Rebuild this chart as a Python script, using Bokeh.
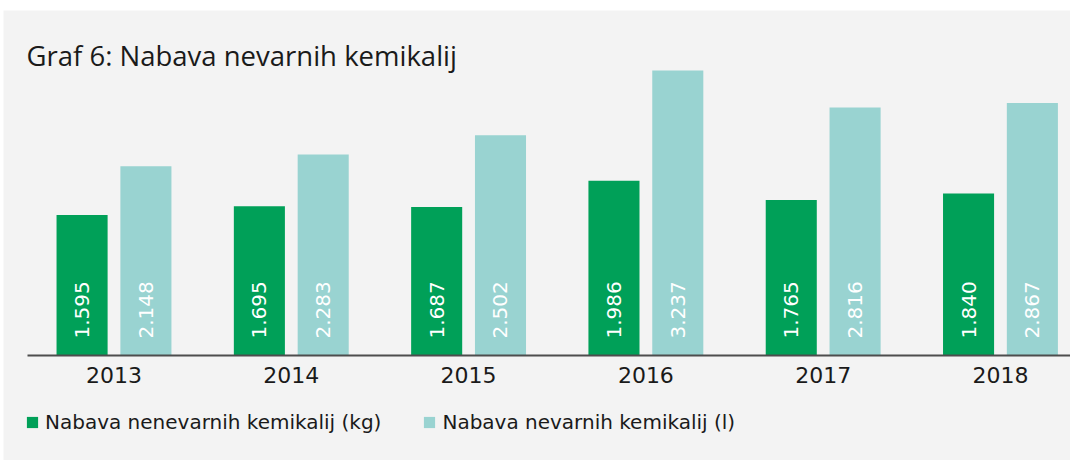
from bokeh.plotting import figure
from bokeh.models import ColumnDataSource, Range1d, Label, Legend, LegendItem
from bokeh.transform import dodge
from bokeh.core.properties import value
from bokeh.embed import file_html
from bokeh.resources import INLINE
import math

years = ["2013", "2014", "2015", "2016", "2017", "2018"]
nenevarne = [1595, 1695, 1687, 1986, 1765, 1840]
nevarne = [2148, 2283, 2502, 3237, 2816, 2867]
nenevarne_labels = ["1.595", "1.695", "1.687", "1.986", "1.765", "1.840"]
nevarne_labels = ["2.148", "2.283", "2.502", "3.237", "2.816", "2.867"]
series_names = ["Nabava nenevarnih kemikalij (kg)", "Nabava nevarnih kemikalij (l)"]
title_text = "Graf 6: Nabava nevarnih kemikalij"

GREEN = "#00a058"
TEAL = "#99d3d1"
BG = "#f3f3f3"
TXT = "#1a1a1a"

src = ColumnDataSource(dict(xi=list(range(len(years))), year=years,
                            a=nenevarne, b=nevarne,
                            la=nenevarne_labels, lb=nevarne_labels))

step = 177.3          # pixels per category
x0, x1 = -0.6232, 5.395
p = figure(width=1070, height=460, output_backend="svg", toolbar_location=None,
           x_range=Range1d(x0, x1), y_range=Range1d(-1192.5, 3918.2),
           min_border_left=3, min_border_right=0, min_border_top=10,
           min_border_bottom=0)
p.background_fill_color = BG
p.border_fill_color = "white"
p.outline_line_color = None
p.xgrid.visible = False
p.ygrid.visible = False
p.yaxis.visible = False
p.xaxis.visible = False

off = 0.18
w = 0.288
ra = p.vbar(x=dodge("xi", -off), top="a", width=w, source=src,
            fill_color=GREEN, line_color=None)
rb = p.vbar(x=dodge("xi", off), top="b", width=w, source=src,
            fill_color=TEAL, line_color=None)

for col, dx in (("la", -off), ("lb", off)):
    p.text(x=dodge("xi", dx), y=0, text=col, source=src,
           angle=math.pi / 2, text_align="left", text_baseline="middle",
           y_offset=-17, text_color="white", text_font_size="20px",
           text_font=value("DejaVu Sans"))

# baseline (axis line), starting 24px right of frame edge
p.segment(x0=[x0 + 24 / step], y0=[0], x1=[x1], y1=[0],
          line_color="#4d4d4d", line_width=2)

p.text(x="xi", y=0, text="year", source=src, text_align="center",
       text_baseline="top", y_offset=12, text_color=TXT,
       text_font_size="22px", text_font=value("DejaVu Sans"))

legend = Legend(items=[LegendItem(label=series_names[0], renderers=[ra]),
                       LegendItem(label=series_names[1], renderers=[rb])],
                orientation="horizontal", location=(22, 26),
                glyph_width=14, glyph_height=14, label_standoff=6, spacing=41,
                padding=0, margin=0, background_fill_alpha=0, border_line_color=None,
                label_text_font="DejaVu Sans", label_text_font_size="20px",
                label_text_color=TXT)
p.add_layout(legend)

p.add_layout(Label(x=23, y=405, x_units="screen", y_units="screen", text=title_text,
                   text_font="Open Sans", text_font_size="27.5px", text_color=TXT,
                   text_baseline="alphabetic"))

open("out.html", "w").write(file_html(p, INLINE))
